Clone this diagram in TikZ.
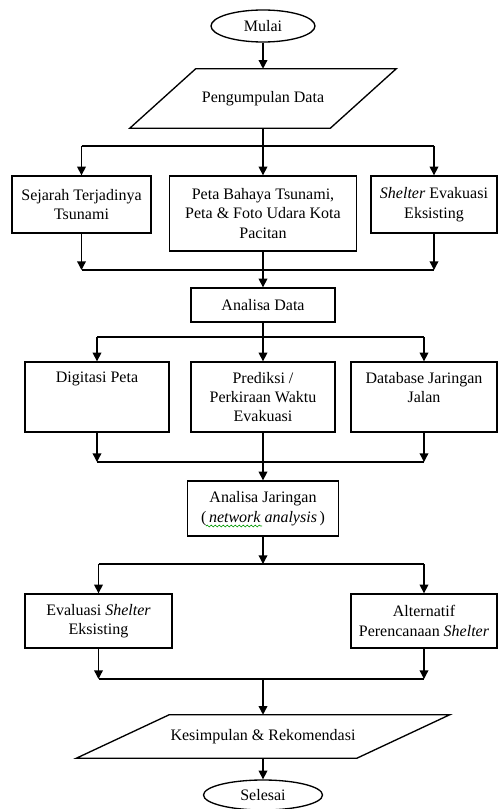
\documentclass[tikz,border=0pt]{standalone}
\usepackage{fontspec}
\setmainfont{Liberation Serif}
\usetikzlibrary{shapes.geometric,arrows.meta,calc,decorations.pathmorphing}

\tikzset{
  huruf/.style={font=\fontsize{12}{14.6}\selectfont},
  kotak/.style={draw, line width=1pt, align=center, inner sep=2pt, huruf},
  terminal/.style={ellipse, draw, line width=1pt, inner sep=0pt, huruf},
  masukan/.style={draw=none, align=center, inner sep=0pt, huruf},
  garis/.style={line width=1pt},
  panah/.style={line width=1pt, -{Triangle[length=6.5pt,width=6.5pt]}},
}

\begin{document}
\begin{tikzpicture}[x=0.75pt,y=0.75pt,yscale=-1]
\useasboundingbox (0,0) rectangle (498,809);

%Shape: Ellipse
\node[terminal, minimum width=78pt, minimum height=24pt] (mulai) at (263,26) {Mulai};
%Shape: Parallelogram
\node[masukan, minimum width=150pt, minimum height=44.25pt] (kumpul) at (263,98.5) {Pengumpulan Data};
\draw[garis] ($(kumpul.north west)+(33,0)$) -- ($(kumpul.north east)+(33,0)$) -- ($(kumpul.south east)+(-33,0)$) -- ($(kumpul.south west)+(-33,0)$) -- cycle;

%Shape: Rectangle (row 1)
\node[kotak, minimum width=104.25pt, minimum height=42.75pt] (sejarah) at (81.5,204.5) {Sejarah Terjadinya\\Tsunami};
\node[kotak, minimum width=140.25pt, minimum height=56.25pt] (peta) at (263,213.5) {Peta Bahaya Tsunami,\\Peta \& Foto Udara Kota\\Pacitan};
\node[kotak, minimum width=94.5pt, minimum height=42.75pt] (shelter) at (434,204.5) {\textit{Shelter} Evakuasi\\Eksisting};

\node[kotak, minimum width=108pt, minimum height=25.5pt] (analisa) at (263,305) {Analisa Data};

%Shape: Rectangle (row 2)
\node[kotak, minimum width=108pt, minimum height=52.5pt] (digitasi) at (97,397) {Digitasi Peta\\\mbox{}\\\mbox{}};
\node[kotak, minimum width=108pt, minimum height=52.5pt] (prediksi) at (263,397) {Prediksi /\\Perkiraan Waktu\\Evakuasi};
\node[kotak, minimum width=109.5pt, minimum height=52.5pt] (database) at (424,397) {Database Jaringan\\Jalan\\\mbox{}};

\node[kotak, minimum width=113.25pt, minimum height=41.25pt] (jaringan) at (263,508.5) {Analisa Jaringan\\(\,\textit{network analysis}\,)};
\draw[green!60!black, line width=0.5pt, decorate, decoration={snake, amplitude=0.7pt, segment length=3pt}] (206,526) -- (262,526);

%Shape: Rectangle (row 3)
\node[kotak, minimum width=110.25pt, minimum height=40.5pt] (evaluasi) at (98.5,621) {Evaluasi \textit{Shelter}\\Eksisting};
\node[kotak, minimum width=109.5pt, minimum height=40.5pt] (alternatif) at (424,621) {Alternatif\\Perencanaan \textit{Shelter}};

%Shape: Parallelogram
\node[masukan, minimum width=210pt, minimum height=32.25pt] (simpul) at (263,736.5) {Kesimpulan \& Rekomendasi};
\draw[garis] ($(simpul.north west)+(46.5,0)$) -- ($(simpul.north east)+(46.5,0)$) -- ($(simpul.south east)+(-46.5,0)$) -- ($(simpul.south west)+(-46.5,0)$) -- cycle;

%Shape: Ellipse
\node[terminal, minimum width=89.25pt, minimum height=22.5pt] (selesai) at (263,795) {Selesai};

%Straight Lines
\coordinate (c1) at (263,146);
\coordinate (g1) at (263,270);
\coordinate (c2) at (263,337);
\coordinate (g2) at (263,462);
\coordinate (c3) at (263,564);
\coordinate (g3) at (263,679);

\draw[panah] (mulai) -- (kumpul.north);

\draw[garis] (kumpul.south) -- (c1);
\draw[garis] (sejarah.north |- c1) -- (shelter.north |- c1);
\draw[panah] (sejarah.north |- c1) -- (sejarah.north);
\draw[panah] (c1) -- (peta.north);
\draw[panah] (shelter.north |- c1) -- (shelter.north);

\draw[panah] (sejarah.south) -- (sejarah.south |- g1);
\draw[panah] (shelter.south) -- (shelter.south |- g1);
\draw[garis] (sejarah.south |- g1) -- (shelter.south |- g1);
\draw[panah] (peta.south) -- (analisa.north);

\draw[garis] (analisa.south) -- (c2);
\draw[garis] (digitasi.north |- c2) -- (database.north |- c2);
\draw[panah] (digitasi.north |- c2) -- (digitasi.north);
\draw[panah] (c2) -- (prediksi.north);
\draw[panah] (database.north |- c2) -- (database.north);

\draw[panah] (digitasi.south) -- (digitasi.south |- g2);
\draw[panah] (database.south) -- (database.south |- g2);
\draw[garis] (digitasi.south |- g2) -- (database.south |- g2);
\draw[panah] (prediksi.south) -- (jaringan.north);

\draw[panah] (jaringan.south) -- (c3);
\draw[garis] (evaluasi.north |- c3) -- (alternatif.north |- c3);
\draw[panah] (evaluasi.north |- c3) -- (evaluasi.north);
\draw[panah] (alternatif.north |- c3) -- (alternatif.north);

\draw[panah] (evaluasi.south) -- (evaluasi.south |- g3);
\draw[panah] (alternatif.south) -- (alternatif.south |- g3);
\draw[garis] (evaluasi.south |- g3) -- (alternatif.south |- g3);
\draw[panah] (g3) -- (simpul.north);

\draw[panah] (simpul.south) -- (selesai);

\end{tikzpicture}
\end{document}
